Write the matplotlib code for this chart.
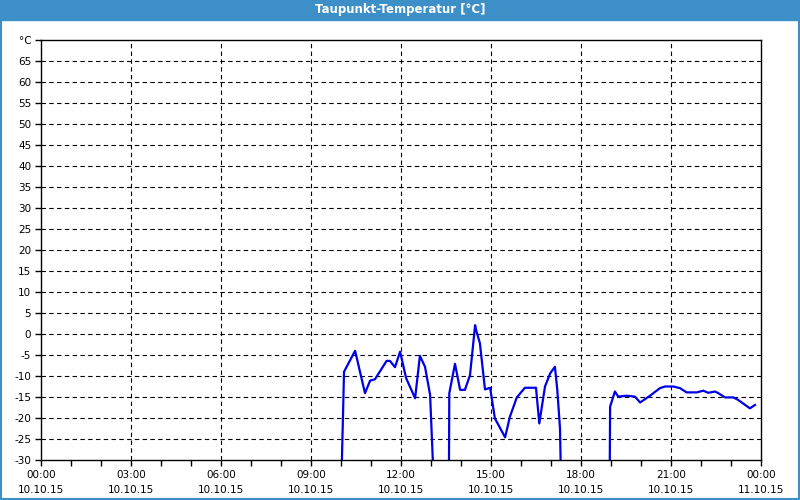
import numpy as np
import matplotlib
matplotlib.use("Agg")
import matplotlib.pyplot as plt
from matplotlib.patches import Rectangle

# dew point readings on 10.10.15, hours since midnight; NaN = no data
hours = [10.03, 10.07, 10.1, 10.47, 10.8, 10.97, 11.13, 11.52, 11.63, 11.8, 11.97,
         12.17, 12.47, 12.63, 12.8, 12.97, 13.06, 13.3,
         13.6, 13.61, 13.8, 13.97, 14.13, 14.3, 14.47, 14.52, 14.63, 14.8, 14.97,
         15.13, 15.47, 15.63, 15.86, 16.13, 16.5, 16.61, 16.8, 16.97, 17.13, 17.21,
         17.3, 17.32, 18.0,
         18.96, 18.97, 19.13, 19.24, 19.52, 19.8, 19.97, 20.3, 20.63, 20.8, 21.08,
         21.3, 21.52, 21.86, 22.08, 22.24, 22.47, 22.58, 22.8, 23.08, 23.24, 23.63, 23.8]
taupunkt = [-30, -18.5, -9.0, -4.0, -14.1, -11.1, -10.8, -6.4, -6.4, -7.9, -4.2,
            -10.5, -15.3, -5.2, -7.8, -14.5, -30, np.nan,
            -30, -14.1, -7.1, -13.3, -13.3, -9.8, 2.1, 0.5, -2.2, -13.2, -12.8,
            -20.1, -24.6, -19.7, -15.1, -12.8, -12.8, -21.3, -12.5, -9.4, -7.8, -13.3,
            -22.5, -30, np.nan,
            -30, -17.3, -13.7, -14.9, -14.7, -14.9, -16.3, -14.7, -12.9, -12.5, -12.5,
            -12.9, -13.9, -13.9, -13.5, -14.0, -13.7, -14.1, -15.1, -15.1, -15.7, -17.7, -16.9]

yticks = list(range(-30, 70, 5))
xticks = [0, 3, 6, 9, 12, 15, 18, 21, 24]
xlabels = ["00:00\n10.10.15", "03:00\n10.10.15", "06:00\n10.10.15", "09:00\n10.10.15",
           "12:00\n10.10.15", "15:00\n10.10.15", "18:00\n10.10.15", "21:00\n10.10.15",
           "00:00\n11.10.15"]

blue_bar = "#3d8fc7"

fig = plt.figure(figsize=(8, 5), dpi=100)
fig.patch.set_facecolor("white")

# window title bar and frame
fig.patches.append(Rectangle((0, 1 - 20 / 500), 1, 20 / 500, transform=fig.transFigure,
                             color=blue_bar, zorder=0))
fig.patches.append(Rectangle((0.0015, 0.003), 0.997, 0.96, transform=fig.transFigure,
                             fill=False, edgecolor=blue_bar, lw=1.5, zorder=0))
fig.text(0.5, 1 - 10 / 500, "Taupunkt-Temperatur [°C]", color="white", ha="center",
         va="center", fontsize=8.5, fontweight="bold")

ax = fig.add_axes([41 / 800, 40 / 500, 720 / 800, 420 / 500])
ax.plot(hours, taupunkt, color="#0000e6", lw=1.6, clip_on=True)

ax.set_xlim(0, 24)
ax.set_ylim(-30, 70)
ax.set_yticks(yticks + [70])
ax.set_yticklabels([str(v) for v in yticks] + ["°C"])
ax.set_xticks(xticks)
ax.set_xticklabels(xlabels, linespacing=1.6)
ax.set_xticks(range(25), minor=True)
ax.tick_params(axis="both", which="both", direction="out", length=4, width=1,
               labelsize=7.5, colors="black", pad=3)
ax.tick_params(axis="x", which="major", pad=3.5)

for v in yticks[1:]:
    ax.axhline(v, color="black", lw=0.8, ls=(0, (4, 3)), zorder=1)
for h in xticks[1:-1]:
    ax.axvline(h, color="black", lw=0.8, ls=(0, (4, 3)), zorder=1)

for s in ax.spines.values():
    s.set_linewidth(1)
    s.set_color("black")

fig.savefig("out.png", dpi=100)
